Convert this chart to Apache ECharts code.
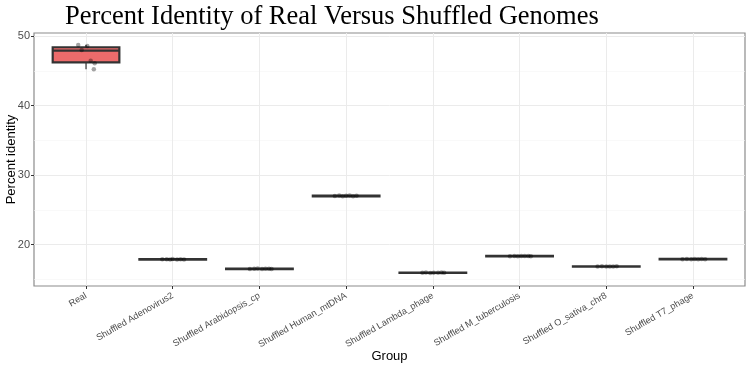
<!DOCTYPE html>
<html>
<head>
<meta charset="utf-8">
<script src="https://cdn.jsdelivr.net/npm/echarts@6/dist/echarts.min.js"></script>
<style>
  html, body { margin: 0; padding: 0; background: #fff; }
  #chart { width: 751px; height: 367px; }
</style>
</head>
<body>
<div id="chart"></div>
<script>
// groups on the x axis
var groups = ["Real", "Shuffled Adenovirus2", "Shuffled Arabidopsis_cp", "Shuffled Human_mtDNA",
  "Shuffled Lambda_phage", "Shuffled M_tuberculosis", "Shuffled O_sativa_chr8", "Shuffled T7_phage"];

// box stats per group: [q1, median, q3]
var boxStats = [
  [46.22, 47.89, 48.38],
  [17.84, 17.88, 17.92],
  [16.49, 16.52, 16.55],
  [26.95, 27.0, 27.05],
  [15.93, 15.96, 15.99],
  [18.31, 18.35, 18.38],
  [16.83, 16.86, 16.89],
  [17.88, 17.91, 17.94]
];

// whiskers per group: [lower, upper]
var whiskers = [
  [45.22, 48.71],
  [17.8, 17.96],
  [16.45, 16.6],
  [26.88, 27.12],
  [15.88, 16.03],
  [18.27, 18.42],
  [16.8, 16.92],
  [17.85, 17.98]
];

// jittered points per group: [x offset, value]
var points = [
  [[-0.09, 48.71], [0.015, 48.56], [-0.05, 47.99], [0.054, 46.45], [0.10, 46.08], [0.09, 45.22]],
  [[-0.12, 17.88], [-0.07, 17.9], [-0.03, 17.85], [0.0, 17.92], [0.05, 17.87], [0.09, 17.9], [0.13, 17.86]],
  [[-0.11, 16.5], [-0.06, 16.53], [-0.02, 16.55], [0.03, 16.5], [0.07, 16.52], [0.11, 16.54], [0.14, 16.5]],
  [[-0.13, 26.98], [-0.08, 27.05], [-0.04, 26.95], [0.0, 27.02], [0.04, 27.06], [0.08, 26.97], [0.12, 27.01]],
  [[-0.12, 15.95], [-0.08, 15.98], [-0.03, 15.93], [0.01, 15.97], [0.06, 15.94], [0.1, 15.99], [0.13, 15.96]],
  [[-0.11, 18.34], [-0.06, 18.37], [-0.02, 18.32], [0.02, 18.36], [0.06, 18.35], [0.1, 18.38], [0.13, 18.33]],
  [[-0.1, 16.86], [-0.05, 16.88], [0.0, 16.84], [0.04, 16.87], [0.08, 16.85], [0.12, 16.88]],
  [[-0.12, 17.9], [-0.07, 17.93], [-0.02, 17.88], [0.02, 17.92], [0.06, 17.9], [0.1, 17.94], [0.14, 17.89]]
];

var yTicks = [20, 30, 40, 50];
var yMinorTicks = [15, 25, 35, 45];
var xTicks = [0, 1, 2, 3, 4, 5, 6, 7];

var boxColors = ["#EC6B6B", "#333333", "#333333", "#333333", "#333333", "#333333", "#333333", "#333333"];

var boxData = boxStats.map(function(b, i) {
  return {
    value: [i, b[0], b[0], b[1], b[2], b[2]],
    itemStyle: { color: boxColors[i] }
  };
});
var whiskerData = whiskers.map(function(w, i) { return [i, w[0], w[1]]; });
var pointData = [];
points.forEach(function(g, i) {
  g.forEach(function(p) { pointData.push([i + p[0], p[1]]); });
});

var chart = echarts.init(document.getElementById("chart"));
chart.setOption({
  animation: false,
  title: {
    text: "Percent Identity of Real Versus Shuffled Genomes",
    left: 60,
    top: -1,
    textStyle: { fontFamily: "Liberation Serif", fontWeight: "normal", fontSize: 26.5, color: "#000" }
  },
  grid: {
    left: 34, right: 6, top: 33, bottom: 81,
    outerBoundsMode: "none",
    containLabel: false,
    show: true, borderColor: "#8c8c8c", borderWidth: 1.2
  },
  xAxis: {
    type: "value",
    min: -0.6,
    max: 7.6,
    name: "Group",
    nameLocation: "middle",
    nameGap: 64,
    nameMoveOverlap: false,
    nameTextStyle: { fontFamily: "Liberation Sans", fontSize: 13, color: "#000" },
    axisLine: { show: false, onZero: false },
    axisTick: { show: true, length: 3, customValues: xTicks, lineStyle: { color: "#333" } },
    axisLabel: {
      customValues: xTicks,
      rotate: 30,
      fontFamily: "Liberation Sans",
      fontSize: 9.2,
      color: "#4d4d4d",
      margin: 9,
      formatter: function(v) { return groups[Math.round(v)]; }
    },
    splitLine: { show: true, lineStyle: { color: "#ebebeb", width: 1 } }
  },
  yAxis: [{
    type: "value",
    min: 14.05,
    max: 50.43,
    name: "Percent identity",
    nameLocation: "middle",
    nameGap: 16,
    nameMoveOverlap: false,
    nameTextStyle: { fontFamily: "Liberation Sans", fontSize: 13, color: "#000" },
    axisLine: { show: false, onZero: false },
    axisTick: { show: true, length: 3, customValues: yTicks, lineStyle: { color: "#333" } },
    axisLabel: { customValues: yTicks, fontFamily: "Liberation Sans", fontSize: 11, color: "#4d4d4d", margin: 4 },
    splitLine: { show: true, lineStyle: { color: "#ebebeb", width: 1 } }
  }, {
    type: "value",
    min: 14.05,
    max: 50.43,
    position: "left",
    axisLine: { show: false, onZero: false },
    axisTick: { show: false, customValues: yMinorTicks },
    axisLabel: { show: false, customValues: yMinorTicks },
    splitLine: { show: true, lineStyle: { color: "#f5f5f5", width: 0.6 } }
  }],
  series: [
    {
      type: "custom",
      z: 2,
      data: whiskerData,
      renderItem: function(params, api) {
        var a = api.coord([api.value(0), api.value(1)]);
        var b = api.coord([api.value(0), api.value(2)]);
        return {
          type: "line",
          shape: { x1: a[0], y1: a[1], x2: b[0], y2: b[1] },
          style: { stroke: "#333", lineWidth: 1.2 }
        };
      }
    },
    {
      type: "boxplot",
      z: 3,
      boxWidth: ["75%", "75%"],
      itemStyle: { borderColor: "#333", borderWidth: 2.2 },
      data: boxData
    },
    {
      type: "scatter",
      z: 4,
      symbolSize: 4.5,
      itemStyle: { color: "rgba(0,0,0,0.45)" },
      data: pointData
    }
  ]
});
</script>
</body>
</html>
